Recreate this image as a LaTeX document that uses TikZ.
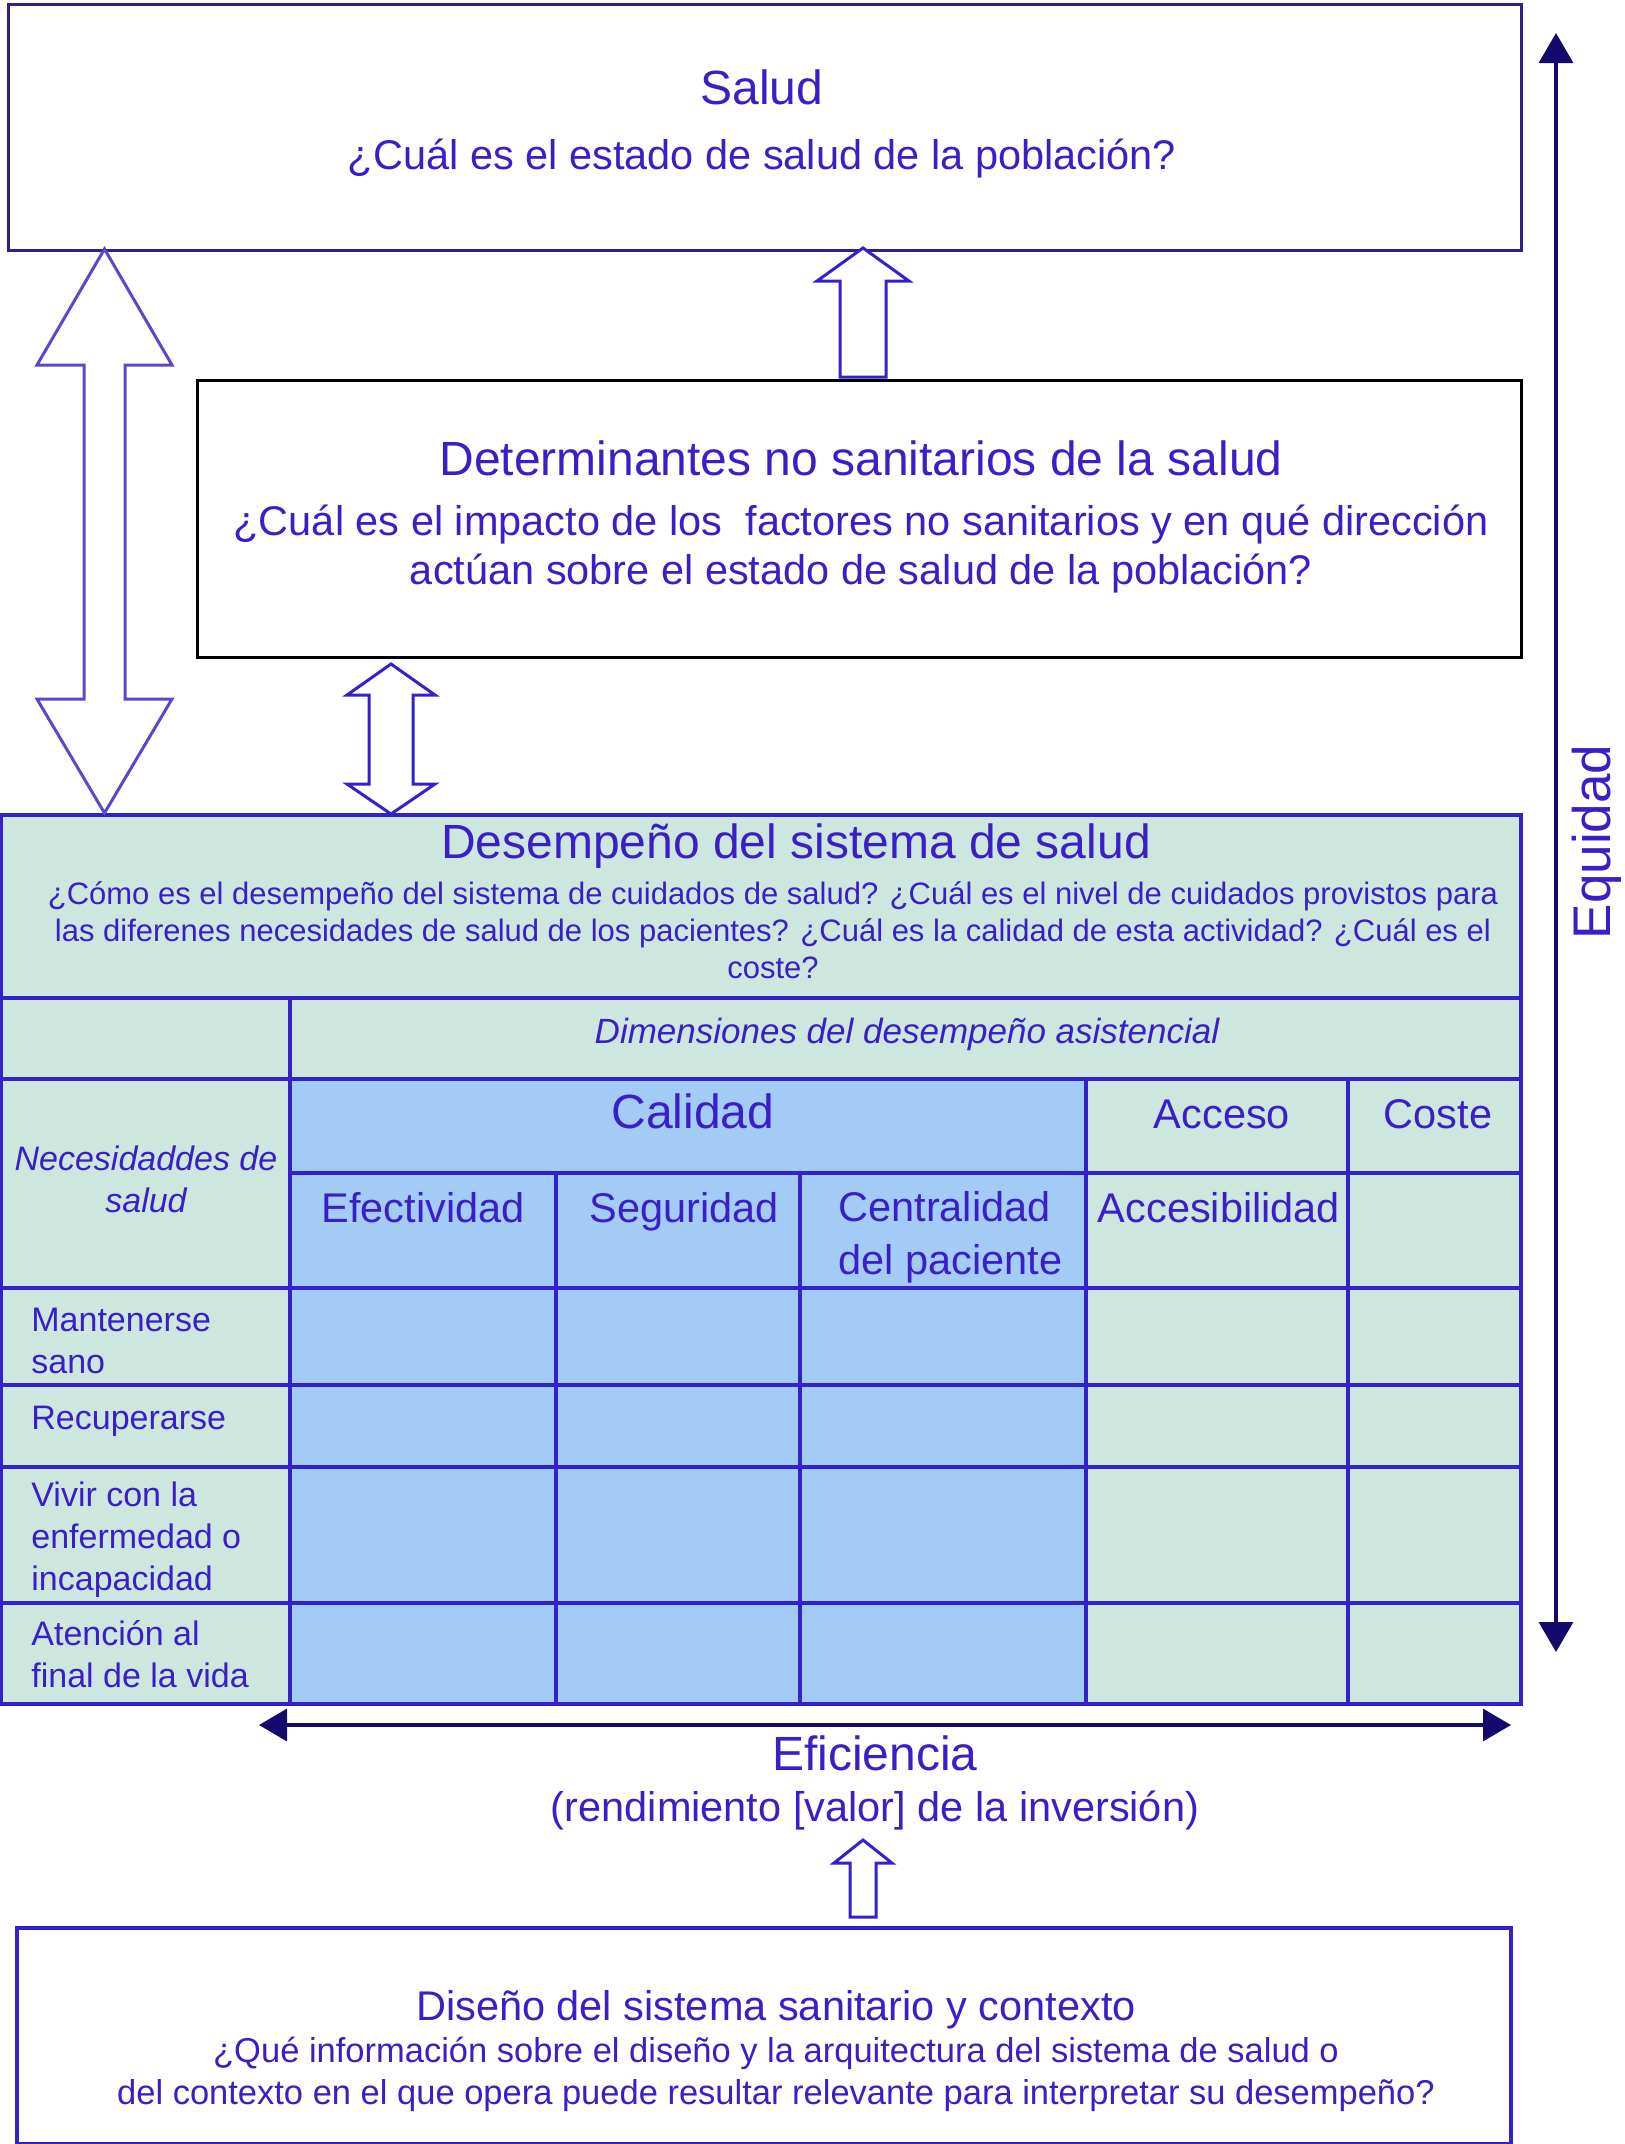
\documentclass[tikz,border=0pt]{standalone}
\usepackage{fontspec}
\setmainfont{Liberation Sans}
\usetikzlibrary{arrows.meta}
\definecolor{txt}{RGB}{58,30,200}
\definecolor{saludline}{RGB}{46,31,138}
\definecolor{tline}{RGB}{51,34,204}
\definecolor{mint}{RGB}{205,230,222}
\definecolor{lblue}{RGB}{163,203,245}
\definecolor{navy}{RGB}{20,10,110}
\definecolor{larrow}{RGB}{90,72,204}
\newcommand\fsz[2]{\fontsize{#1}{#2}\selectfont}
\begin{document}
\begin{tikzpicture}[x=0.5pt,y=-0.5pt,
  box/.style={anchor=north west, inner sep=0, line width=1.5pt},
  lbl/.style={text=txt, inner sep=0, align=center},
  rowlbl/.style={text=txt, inner sep=0, align=left, anchor=west, font=\fsz{17}{21}},
  hgrid/.style={draw=tline, line width=2.2pt},
  vgrid/.style={draw=tline, line width=1.8pt},
  block/.style={fill=white, line width=1.5pt, line join=miter},
  dimarrow/.style={draw=navy, line width=1.7pt}
]
\useasboundingbox (0,0) rectangle (1625,2144);

% ---------- boxes ----------
\node[box, draw=saludline, line width=1.7pt, minimum width=756.5pt, minimum height=123pt] (salud) at (7,3) {};
\node[box, draw=black, minimum width=662pt, minimum height=138.5pt] (det) at (196,379) {};
\node[box, draw=tline, line width=2pt, minimum width=747pt, minimum height=108pt] (dis) at (15,1926) {};

% ---------- performance table ----------
\node[anchor=north west, inner sep=0, fill=mint, minimum width=759.5pt, minimum height=444pt] (perf) at (1,815) {};
\fill[lblue] (290,1079) rectangle (1086,1703);
\draw[hgrid] (0,998) -- (1520,998);
\draw[hgrid] (0,1079) -- (1520,1079);
\draw[hgrid] (290,1173) -- (1520,1173);
\draw[hgrid] (0,1288) -- (1520,1288);
\draw[hgrid] (0,1385) -- (1520,1385);
\draw[hgrid] (0,1467) -- (1520,1467);
\draw[hgrid] (0,1603) -- (1520,1603);
\draw[vgrid] (290,998) -- (290,1703);
\draw[vgrid] (556,1173) -- (556,1703);
\draw[vgrid] (800,1173) -- (800,1703);
\draw[vgrid] (1086,1079) -- (1086,1703);
\draw[vgrid] (1348,1079) -- (1348,1703);
\draw[draw=tline, line width=2.2pt] (perf.north west) rectangle (perf.south east);

% ---------- block arrows ----------
\draw[block, draw=larrow] (104.5,249) -- (172,365) -- (125,365) -- (125,699) -- (172,699)
  -- (104.5,813) -- (37,699) -- (84,699) -- (84,365) -- (37,365) -- cycle;
\draw[block, draw=tline] (391,664) -- (435,695) -- (413,695) -- (413,784) -- (435,784)
  -- (391,814) -- (347,784) -- (369,784) -- (369,695) -- (347,695) -- cycle;
\draw[block, draw=tline] (863,248) -- (909,281) -- (886,281) -- (886,377) -- (840,377)
  -- (840,281) -- (817,281) -- cycle;
\draw[block, draw=tline] (863,1840) -- (892,1863) -- (876,1863) -- (876,1917) -- (850,1917)
  -- (850,1863) -- (834,1863) -- cycle;

% ---------- dimension arrows ----------
\coordinate (eqtop) at (1556,33);
\coordinate (eqbot) at (1556,1652);
\draw[dimarrow, {Triangle[length=15pt,width=17pt]}-{Triangle[length=15pt,width=17pt]}] (eqtop) -- (eqbot);
\coordinate (efl) at (259,1725);
\coordinate (efr) at (1511,1725);
\draw[dimarrow, {Triangle[length=14pt,width=16pt]}-{Triangle[length=14pt,width=16pt]}] (efl) -- (efr);

% ---------- texts ----------
\node[lbl, font=\fsz{24}{29}] (tsalud) at (762,87) {Salud};
\node[lbl, font=\fsz{20.75}{25}] (qsalud) at (762,159) {¿Cuál es el estado de salud de la población?};

\node[lbl, font=\fsz{24}{29}] (tdet) at (861,458) {Determinantes no sanitarios de la salud};
\node[lbl, font=\fsz{20.75}{24.5}] (qdet) at (861,549) {¿Cuál es el impacto de los~ factores no sanitarios y en qué dirección\\ actúan sobre el estado de salud de la población?};

\node[lbl, font=\fsz{24}{29}] (tperf) at (796,846) {Desempeño del sistema de salud};
\node[lbl, font=\fsz{15.5}{18.5}] (qperf) at (773,930) {¿Cómo es el desempeño del sistema de cuidados de salud? ¿Cuál es el nivel de cuidados provistos para\\ las diferenes necesidades de salud de los pacientes? ¿Cuál es la calidad de esta actividad? ¿Cuál es el\\ coste?};

\node[lbl, font=\fsz{17.5}{21}\itshape] (dims) at (907,1034) {Dimensiones del desempeño asistencial};
\node[lbl, font=\fsz{24}{29}] (cal) at (693,1111) {Calidad};
\node[lbl, font=\fsz{20.75}{25}] (acc) at (1222,1114) {Acceso};
\node[lbl, font=\fsz{20.75}{25}] (cos) at (1438,1114) {Coste};
\node[lbl, font=\fsz{17}{21}\itshape] (nec) at (146,1179) {Necesidaddes de\\ salud};
\node[lbl, font=\fsz{20.75}{25}] (efe) at (423,1208) {Efectividad};
\node[lbl, font=\fsz{20.75}{25}] (seg) at (684,1212) {Seguridad};
\node[lbl, font=\fsz{20.75}{26.5}, align=left, anchor=west] (cen) at (838,1237) {Centralidad\\ del paciente};
\node[lbl, font=\fsz{20.75}{25}] (acs) at (1219,1208) {Accesibilidad};

\node[rowlbl] (r1) at (31,1341) {Mantenerse\\ sano};
\node[rowlbl] (r2) at (31,1421) {Recuperarse};
\node[rowlbl] (r3) at (31,1540) {Vivir con la\\ enfermedad o\\ incapacidad};
\node[rowlbl] (r4) at (31,1654) {Atención al\\ final de la vida};

\node[lbl, font=\fsz{24}{29}] (efi) at (875,1753) {Eficiencia};
\node[lbl, font=\fsz{20.75}{25}] (ren) at (875,1811) {(rendimiento [valor] de la inversión)};

\node[lbl, font=\fsz{20.75}{25}] (tdis) at (776,2010) {Diseño del sistema sanitario y contexto};
\node[lbl, font=\fsz{17.25}{21}] (qdis) at (776,2074) {¿Qué información sobre el diseño y la arquitectura del sistema de salud o\\ del contexto en el que opera puede resultar relevante para interpretar su desempeño?};

\node[lbl, rotate=90, font=\fsz{26.5}{30}] (equ) at (1597,842) {Equidad};
\end{tikzpicture}
\end{document}
